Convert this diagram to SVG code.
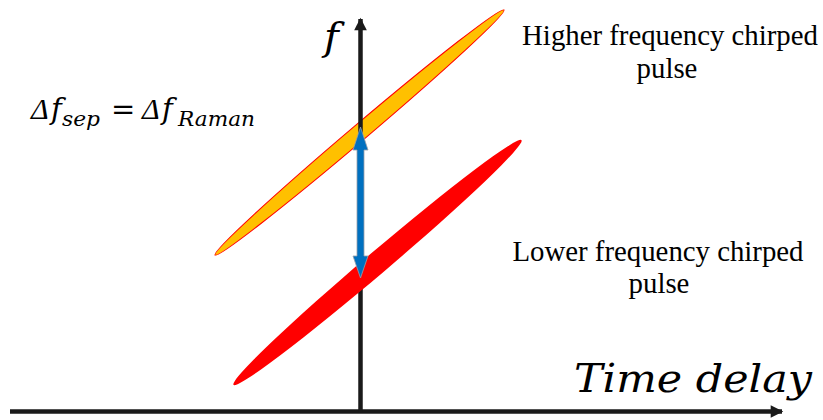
<svg xmlns="http://www.w3.org/2000/svg" width="823" height="420" viewBox="0 0 823 420">
<defs>
<style>
.lbl{font-family:"Liberation Serif","Times New Roman",serif;font-size:28.8px;fill:#000;text-anchor:middle}
.math{font-family:"DejaVu Serif","Liberation Serif",serif;font-style:italic;fill:#000}
.delta{font-family:"Liberation Serif","Times New Roman",serif;font-style:italic;font-size:30px;fill:#000}
.axis{stroke:#1a1a1a;stroke-width:4.5;fill:none}
</style>
<marker id="ah" viewBox="0 0 10 10" refX="9" refY="5" markerWidth="3" markerHeight="2.8" orient="auto" markerUnits="strokeWidth">
<path d="M0,0 L10,5 L0,10 Z" fill="#1a1a1a"/>
</marker>
</defs>
<rect width="823" height="420" fill="#fff"/>
<g id="higher-pulse">
<ellipse cx="359.5" cy="132.5" rx="189.5" ry="8" transform="rotate(-40.3 359.5 132.5)" fill="#FFC000" stroke="#FF0000" stroke-width="1"/>
</g>
<g id="axes">
<line class="axis" x1="10" y1="411.5" x2="782" y2="411.5" marker-end="url(#ah)"/>
<line class="axis" x1="360.5" y1="412" x2="360.5" y2="19" marker-end="url(#ah)"/>
</g>
<g id="lower-pulse">
<ellipse cx="377.5" cy="262.5" rx="189" ry="11" transform="rotate(-40.35 377.5 262.5)" fill="#FF0000"/>
</g>
<g id="connectors">
<path id="sep-arrow" d="M360.5,127 L368,150 L364,150 L364,256 L368,256 L360.5,278 L353,256 L357,256 L357,150 L353,150 Z" fill="#0070C0" stroke="#9aa0a8" stroke-width="0.8"/>
</g>
<g id="labels">
<text class="lbl" x="670" y="45">Higher frequency chirped</text>
<text class="lbl" x="667" y="78">pulse</text>
<text class="lbl" x="658" y="261">Lower frequency chirped</text>
<text class="lbl" x="659" y="293">pulse</text>
<text class="math" x="324" y="50" font-size="40">f</text>
<text class="math" x="574" y="392" font-size="40" textLength="238" lengthAdjust="spacingAndGlyphs">Time delay</text>
<g id="equation">
<text class="delta" x="31" y="119">Δ</text>
<text class="math" x="51" y="119" font-size="29">f</text>
<text class="math" x="62" y="126" font-size="21" textLength="38" lengthAdjust="spacingAndGlyphs">sep</text>
<text class="math" x="111" y="119" font-size="29" font-style="normal">=</text>
<text class="delta" x="142" y="119">Δ</text>
<text class="math" x="162" y="119" font-size="29">f</text>
<text class="math" x="178" y="126" font-size="21" textLength="77" lengthAdjust="spacingAndGlyphs">Raman</text>
</g>
</g>
</svg>
